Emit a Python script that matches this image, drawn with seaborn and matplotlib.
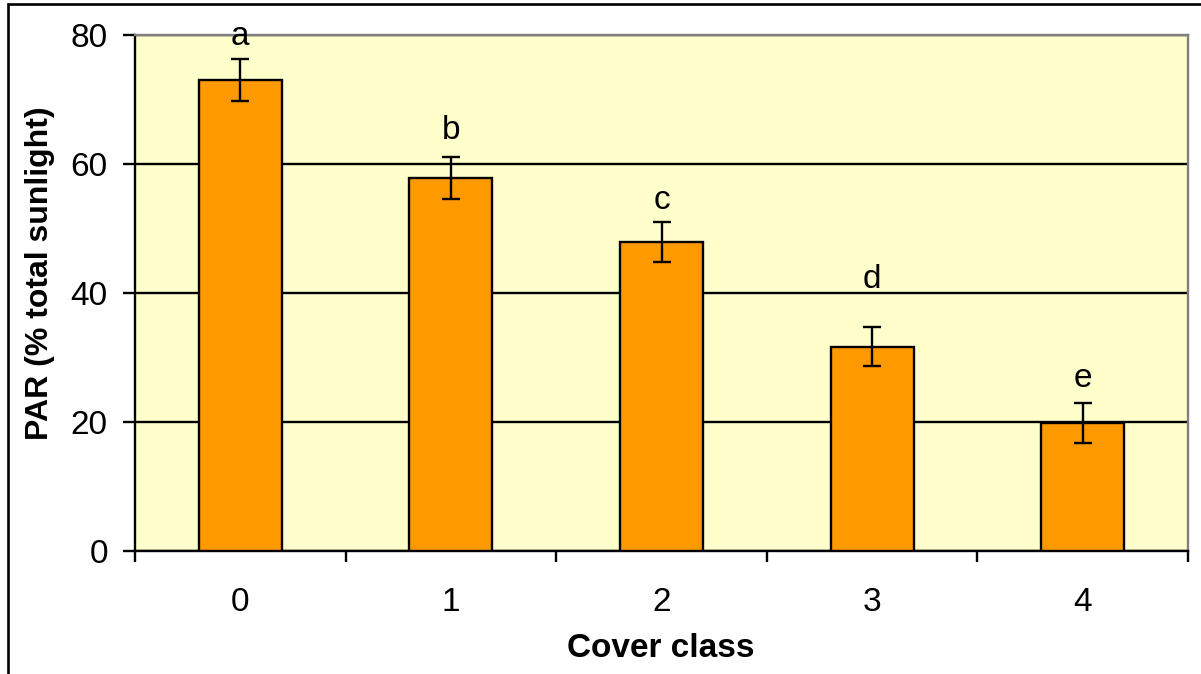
import matplotlib
matplotlib.use("Agg")
import matplotlib.pyplot as plt
import numpy as np
import pandas as pd
import seaborn as sns
from matplotlib.patches import Rectangle

# Mean PAR per cover class, with standard errors and significance groups
cover_class = ["0", "1", "2", "3", "4"]
par_mean = [73.0, 57.8, 47.9, 31.7, 19.8]
par_se = [3.3, 3.3, 3.1, 3.0, 3.1]
group_letters = ["a", "b", "c", "d", "e"]
letter_y = [78.4, 63.9, 53.0, 40.8, 25.4]
y_ticks = [0, 20, 40, 60, 80]

sns.set_theme(style="white")
plt.rcParams["font.family"] = ["Liberation Sans", "DejaVu Sans"]

W, H = 1201, 674
fig = plt.figure(figsize=(W / 100, H / 100), dpi=100)
fig.patch.set_facecolor("white")
ax = fig.add_axes([135 / W, 1 - 551 / H, (1188 - 135) / W, (551 - 35) / H])
ax.set_facecolor("#FFFFCC")

df = pd.DataFrame({"cover": cover_class, "par": par_mean})
sns.barplot(data=df, x="cover", y="par", color="#FF9900", saturation=1,
            width=0.394, edgecolor="black", linewidth=1.7, errorbar=None,
            ax=ax, zorder=3)
ax.errorbar(np.arange(len(cover_class)), par_mean, yerr=par_se, fmt="none",
            ecolor="black", elinewidth=1.7, capsize=6.5, capthick=1.7, zorder=4)

for i, (lab, yv) in enumerate(zip(group_letters, letter_y)):
    ax.text(i, yv, lab, ha="center", va="baseline", fontsize=24, color="black", zorder=5)

# Axes limits, grid and spines
ax.set_xlim(-0.5, len(cover_class) - 0.5)
ax.set_ylim(0, 80)
ax.set_yticks(y_ticks)
ax.set_yticklabels([str(v) for v in y_ticks])
ax.set_axisbelow(True)
ax.yaxis.grid(True, color="black", linewidth=1.7)
ax.xaxis.grid(False)
for side in ("left", "bottom"):
    ax.spines[side].set_color("black")
    ax.spines[side].set_linewidth(1.7)
for side in ("top", "right"):
    ax.spines[side].set_color("#808080")
    ax.spines[side].set_linewidth(1.7)

ax.tick_params(axis="y", left=True, direction="out", length=8.6, width=1.7,
               color="black", pad=11, labelsize=24, labelcolor="black")
ax.set_xticks(np.arange(len(cover_class)))
ax.set_xticklabels(cover_class)
ax.set_xticks(np.arange(len(cover_class) + 1) - 0.5, minor=True)
ax.tick_params(axis="x", which="major", bottom=True, length=0, pad=26,
               labelsize=24, labelcolor="black")
ax.tick_params(axis="x", which="minor", bottom=True, direction="out",
               length=8, width=1.7, color="black")

ax.set_xlabel("Cover class", fontsize=24, fontweight="bold", color="black")
ax.xaxis.set_label_coords(0.4996, -0.188)
ax.xaxis.label.set_va("center")
ax.set_ylabel("PAR (% total sunlight)", fontsize=23, fontweight="bold", color="black")
ax.yaxis.set_label_coords(-0.0902, 0.539)
ax.yaxis.label.set_va("center")

# Outer chart frame
fig.add_artist(Rectangle((8 / W, -0.1), 1.2, 1 - 4.5 / H + 0.1,
                         transform=fig.transFigure, fill=False,
                         edgecolor="black", linewidth=1.9, clip_on=False))

fig.savefig("out.png", dpi=100)
